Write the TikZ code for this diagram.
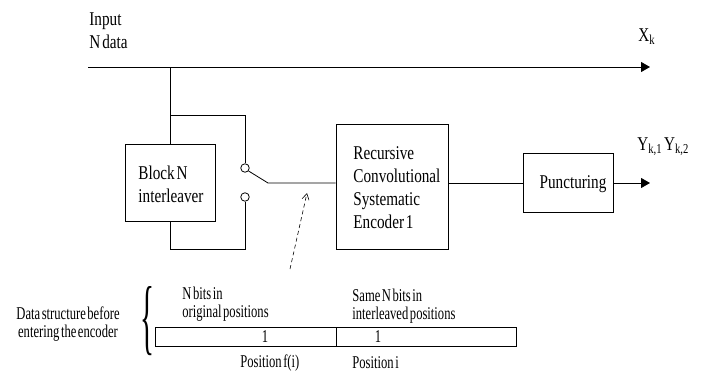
\documentclass[tikz,border=0pt]{standalone}
\usepackage{fontspec}
\usepackage{graphicx}
\setmainfont{Liberation Serif}[WordSpace=0.45]
\newfontfamily\lblfont{Liberation Serif}[FakeStretch=0.78,WordSpace=0.5]
\newfontfamily\smlfont{Liberation Serif}[FakeStretch=0.7,WordSpace=0.5]
\usetikzlibrary{arrows.meta}
\begin{document}
\begin{tikzpicture}[x=1pt,y=-1pt,line width=0.8pt,
  box/.style={draw,rectangle,inner sep=0pt},
  lbl/.style={inner sep=0pt,align=left,font=\lblfont\fontsize{19.5}{23}\selectfont},
  sml/.style={inner sep=0pt,align=left,font=\smlfont\fontsize{18}{18}\selectfont},
  port/.style={draw,circle,minimum size=8.5pt,inner sep=0pt,fill=white},
  tip/.style={-{Triangle[length=9pt,width=10pt]}}]
\useasboundingbox (0,0) rectangle (701,372);
% boxes
\node[box,minimum width=90pt,minimum height=77pt] (blk) at (170,182.5) {};
\node[lbl,anchor=center] (blkt) at (171,184) {Block N\\interleaver};
\node[box,minimum width=112pt,minimum height=125pt] (enc) at (392,186.5) {};
\node[lbl,anchor=west] (enct) at (353,188) {Recursive\\Convolutional\\Systematic\\Encoder 1};
\node[box,minimum width=90pt,minimum height=59pt] (punc) at (568,182.5) {};
\node[lbl,anchor=center] (punct) at (573,184) {Puncturing};
% switch ports
\node[port] (c1) at (245,168) {};
\node[port] (c2) at (245,197) {};
% coordinates
\coordinate (in) at (88,67);
\coordinate (xout) at (650,67);
\coordinate (j1) at (170,67);
\coordinate (j2) at (170,115);
\coordinate (j3) at (170,249);
\coordinate (sw) at (268,183);
\coordinate (yout) at (650,183);
\coordinate (ds) at (290,269);
\coordinate (de) at (307,193);
% connectors
\draw[tip] (in) -- (xout);
\draw (j1) -- (blk.north);
\draw (j2) -| (c1.north);
\draw (blk.south) -- (j3) -| (c2.south);
\draw (c1.-40) -- (sw) -- (sw -| enc.west);
\draw (sw -| enc.east) -- (sw -| punc.west);
\draw[tip] (sw -| punc.east) -- (yout);
\draw[dashed,dash pattern=on 4pt off 3pt,line width=0.6pt,-{Straight Barb[length=6pt,width=7pt]}] (ds) -- (de);
% labels
\node[lbl,anchor=west] (inp) at (89,30.5) {Input\\N data};
\node[lbl,anchor=west] (xk) at (638,37) {X\textsubscript{k}};
\node[lbl,anchor=west] (yk) at (637,147) {Y\textsubscript{k,1} Y\textsubscript{k,2}};
% data structure
\node[box,minimum width=181pt,minimum height=19pt] (cellA) at (245.5,336.5) {};
\node[box,minimum width=180pt,minimum height=19pt] (cellB) at (426,336.5) {};
\node[sml] (oneA) at (265,337) {1};
\node[sml] (oneB) at (378,337) {1};
\node[sml,anchor=west] (nb) at (182,304) {N bits in\\original positions};
\node[sml,anchor=west] (sb) at (352,306) {Same N bits in\\interleaved positions};
\node[sml,anchor=west] (pf) at (240,363) {Position f(i)};
\node[sml,anchor=west] (pi) at (352,363) {Position i};
\node[sml,align=center] (ds1) at (68,324.5) {Data structure before\\entering the encoder};
\node[inner sep=0pt] (br) at (147.5,321) {\resizebox{14pt}{58pt}{\{}};
\end{tikzpicture}
\end{document}
